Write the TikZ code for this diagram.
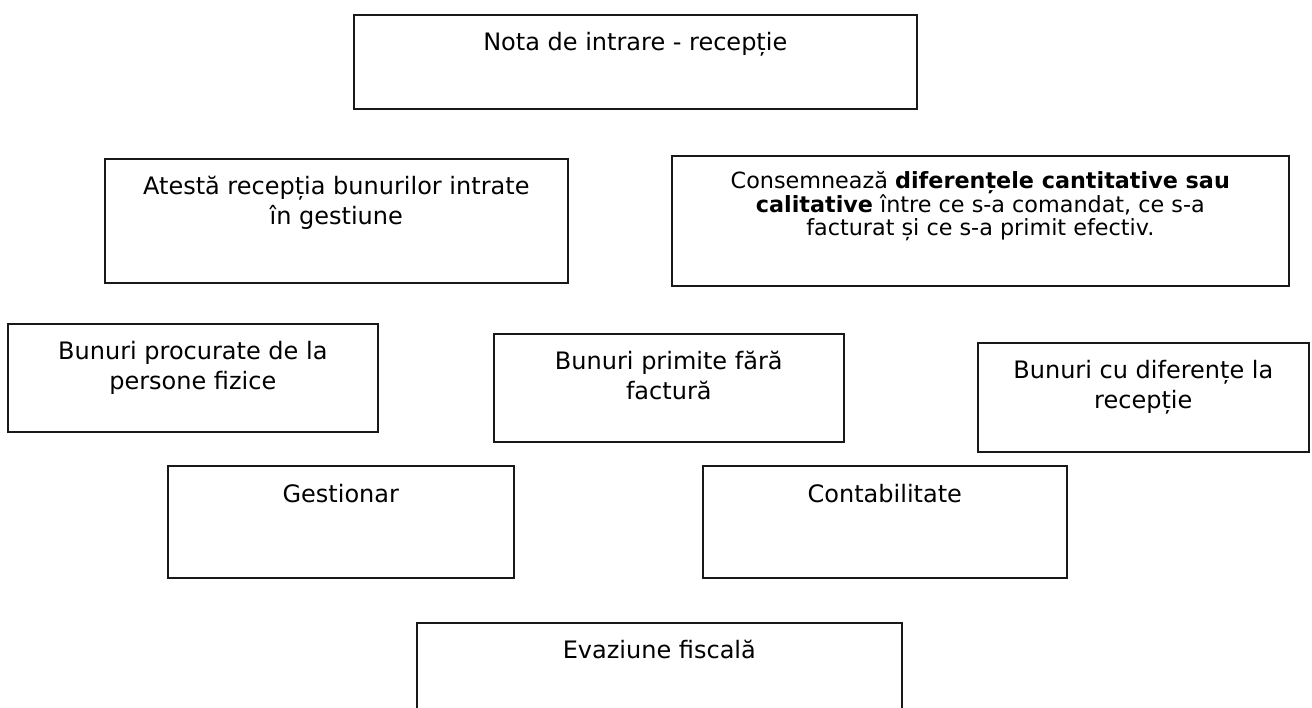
\documentclass[tikz,border=0pt]{standalone}
\usepackage{fontspec}
\setmainfont{DejaVu Sans}
\tikzset{
  box/.style={draw=black!90, line width=1.6pt, inner sep=0pt, anchor=north west},
}
% #1 width, #2 height, #3 first-baseline offset, #4 size, #5 skip, #6 text
\newcommand{\boxtext}[6]{\parbox[t][#2pt][t]{#1pt}{\fontsize{#4pt}{#5pt}\selectfont\centering\rule{0pt}{#3pt}#6\par}}
\begin{document}
\begin{tikzpicture}[x=1pt,y=-1pt]
\useasboundingbox (0,0) rectangle (1312,708);
\node[box] (nota) at (353,14) {\boxtext{563}{94}{36}{24}{30}{Nota de intrare - recepție}};
\node[box] (atesta) at (104,158) {\boxtext{463}{124}{36}{24}{30}{Atestă recepția bunurilor intrate\\în gestiune}};
\node[box] (consemn) at (671,155) {\boxtext{617}{130}{33}{22.3}{23.5}{Consemnează \textbf{diferențele cantitative sau}\\\textbf{calitative} între ce s-a comandat, ce s-a\\facturat și ce s-a primit efectiv.}};
\node[box] (procurate) at (7,323) {\boxtext{370}{108}{36}{24}{30}{Bunuri procurate de la\\persone fizice}};
\node[box] (primite) at (493,333) {\boxtext{350}{108}{36}{24}{30}{Bunuri primite fără\\factură}};
\node[box] (diferente) at (977,342) {\boxtext{331}{109}{36}{24}{30}{Bunuri cu diferențe la\\recepție}};
\node[box] (gestionar) at (167,465) {\boxtext{346}{112}{37}{24}{30}{Gestionar}};
\node[box] (contab) at (702,465) {\boxtext{364}{112}{37}{24}{30}{Contabilitate}};
\node[box] (evaziune) at (416,622) {\boxtext{485}{100}{36}{24}{30}{Evaziune fiscală}};
\end{tikzpicture}
\end{document}
